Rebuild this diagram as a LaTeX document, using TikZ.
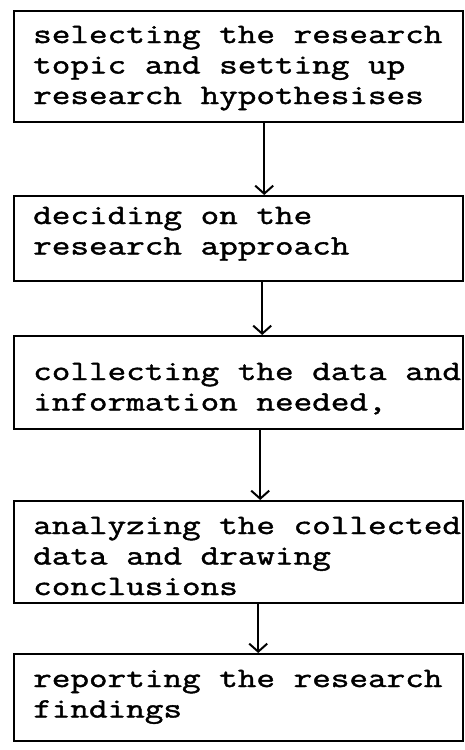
\documentclass[tikz,border=0pt]{standalone}
\usepackage{fontspec}
\newfontfamily\typew[FakeStretch=1.29, FakeBold=1.5]{Latin Modern Mono}
\usetikzlibrary{arrows.meta}
\newcommand{\boxtext}[1]{\parbox[t]{470pt}{\raggedright #1}}
\begin{document}
\begin{tikzpicture}[x=1pt,y=1pt,
  stepbox/.style={draw=black, line width=2.4pt, rectangle, anchor=north west,
    minimum width=449pt, inner sep=0pt},
  steptext/.style={anchor=base west, inner sep=0pt,
    font=\typew\fontsize{28}{30.5}\selectfont},
  arr/.style={draw=black, line width=1.8pt, -{Straight Barb[length=8pt,width=18pt,line width=2pt]}}]
\useasboundingbox (0,0) rectangle (464,-750);
% boxes
\node[stepbox, minimum height=111pt] (b1) at (13,-10) {};
\node[stepbox, minimum height=85pt]  (b2) at (13,-195) {};
\node[stepbox, minimum height=93pt]  (b3) at (13,-335) {};
\node[stepbox, minimum height=102pt] (b4) at (13,-500) {};
\node[stepbox, minimum height=87pt]  (b5) at (13,-653) {};
% texts
\node[steptext] (t1) at (33,-43)
  {\boxtext{selecting the research\\topic and setting up\\research hypothesises}};
\node[steptext] (t2) at (33,-224)
  {\boxtext{deciding on the\\research approach}};
\node[steptext] (t3) at (33,-380)
  {\boxtext{collecting the data and\\information needed,}};
\node[steptext] (t4) at (33,-534)
  {\boxtext{analyzing the collected\\data and drawing\\conclusions}};
\node[steptext] (t5) at (33,-687)
  {\boxtext{reporting the research\\findings}};
% arrows
\draw[arr] ([xshift=25.5pt]b1.south) -- ([xshift=25.5pt]b2.north);
\draw[arr] ([xshift=23.5pt]b2.south) -- ([xshift=23.5pt]b3.north);
\draw[arr] ([xshift=21.5pt]b3.south) -- ([xshift=21.5pt]b4.north);
\draw[arr] ([xshift=19.5pt]b4.south) -- ([xshift=19.5pt]b5.north);
\end{tikzpicture}
\end{document}
